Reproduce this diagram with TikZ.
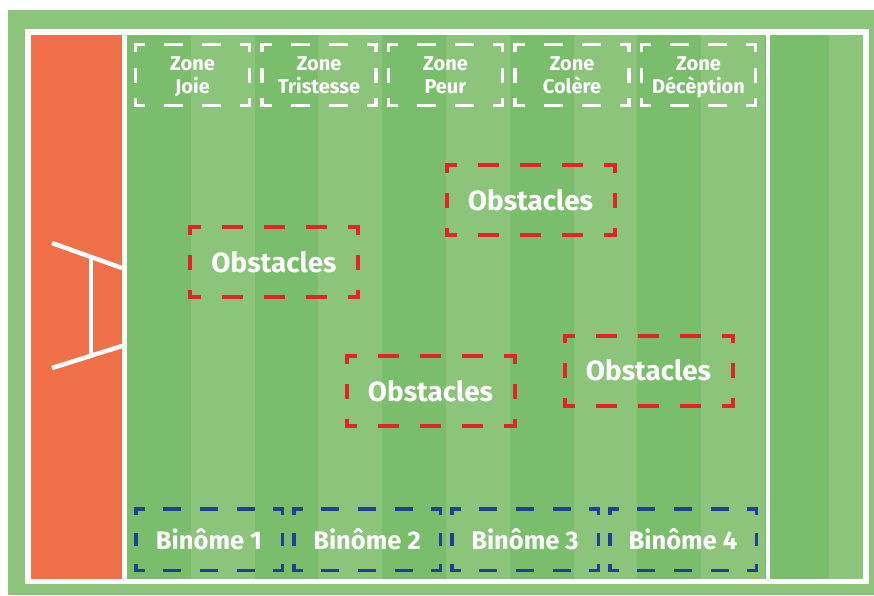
\documentclass[tikz,border=0pt]{standalone}
\usepackage{fontspec}
\setmainfont{Fira Sans}
\usetikzlibrary{positioning}

\definecolor{pitchlight}{HTML}{8CC47B}
\definecolor{pitchdark}{HTML}{7ABD6C}
\definecolor{ingoal}{HTML}{F0704A}
\definecolor{obsred}{HTML}{E3232A}
\definecolor{binblue}{HTML}{233F8F}

% dashed frame round a named node, one path per side
\newcommand{\dashframe}[3]{%
  \draw[#2] (#1.north west) -- (#1.north east);
  \draw[#2] (#1.south west) -- (#1.south east);
  \draw[#3] (#1.north west) -- (#1.south west);
  \draw[#3] (#1.north east) -- (#1.south east);}

\tikzset{
  box/.style={inner sep=0pt, outer sep=0pt, text=white, align=center},
  zonebox/.style={box, minimum width=114pt, minimum height=61pt,
    font=\fontsize{20}{23}\selectfont\bfseries},
  obsbox/.style={box, minimum width=168pt, minimum height=70pt,
    font=\fontsize{27.8}{30}\selectfont\bfseries},
  binbox/.style={box, minimum width=146.5pt, minimum height=61.5pt,
    font=\fontsize{25.5}{28}\selectfont\bfseries},
  frame/.style={line cap=rect},
  zoneh/.style={frame, white, line width=3.5pt, dash pattern=on 15.5pt off 22.5pt, dash phase=7.75pt},
  zonev/.style={frame, white, line width=3.5pt, dash pattern=on 11.5pt off 19pt, dash phase=5.75pt},
  obsh/.style={frame, obsred, line width=4pt, dash pattern=on 17pt off 25pt, dash phase=8.5pt},
  obsv/.style={frame, obsred, line width=4pt, dash pattern=on 11pt off 24pt, dash phase=5.5pt},
  binh/.style={frame, binblue, line width=3.5pt, dash pattern=on 14.5pt off 22.125pt, dash phase=7.25pt},
  binv/.style={frame, binblue, line width=3.5pt, dash pattern=on 9.5pt off 21.25pt, dash phase=4.75pt},
  chalk/.style={white, line width=4.5pt}
}

\begin{document}
\begin{tikzpicture}[x=1pt,y=-1pt]
    \useasboundingbox (0,0) rectangle (874,595);
    % --- PITCH ---
    \fill[pitchlight] (8,10) rectangle (874,595);
    \foreach \i in {0,2,...,10}
        \fill[pitchdark] (127+63.8*\i,35) rectangle (127+63.8*\i+63.8,579);
    \fill[pitchlight] (863,35) rectangle (874,579);
    \fill[ingoal] (31,35) rectangle (122,579);
    \draw[white, line width=5.5pt] (28,32) rectangle (866,581.5);
    \draw[white, line width=5pt] (124.5,32) -- (124.5,581.5);
    \draw[white, line width=4.5pt] (768,32) -- (768,581.5);
    % goal posts
    \draw[chalk] (52,243) -- (122,268);
    \draw[chalk] (52,368) -- (122,346);
    \draw[chalk] (91,257) -- (91,356);

    % --- ZONES (TOP) ---
    \foreach \t [count=\i from 0] in {Joie,Tristesse,Peur,Colère,Décèption}
        \node[zonebox] (zone\i) at (192.5+126.5*\i,75) {Zone\vphantom{É}\\\t\vphantom{p}};
    \foreach \i in {0,...,4} {\dashframe{zone\i}{zoneh}{zonev}}

    % --- OBSTACLES ---
    \node[obsbox] (obs1) at (530.5,200) {Obstacles};
    \node[obsbox] (obs2) at (274,262) {Obstacles};
    \node[obsbox] (obs3) at (430.5,391) {Obstacles};
    \node[obsbox] (obs4) at (648.5,370.5) {Obstacles};
    \foreach \i in {1,...,4} {\dashframe{obs\i}{obsh}{obsv}}

    % --- BINOMES (BOTTOM) ---
    \foreach \i in {1,...,4}
        \node[binbox] (bin\i) at (209+158*\i-158,539.5) {Binôme \i};
    \foreach \i in {1,...,4} {\dashframe{bin\i}{binh}{binv}}
\end{tikzpicture}
\end{document}
